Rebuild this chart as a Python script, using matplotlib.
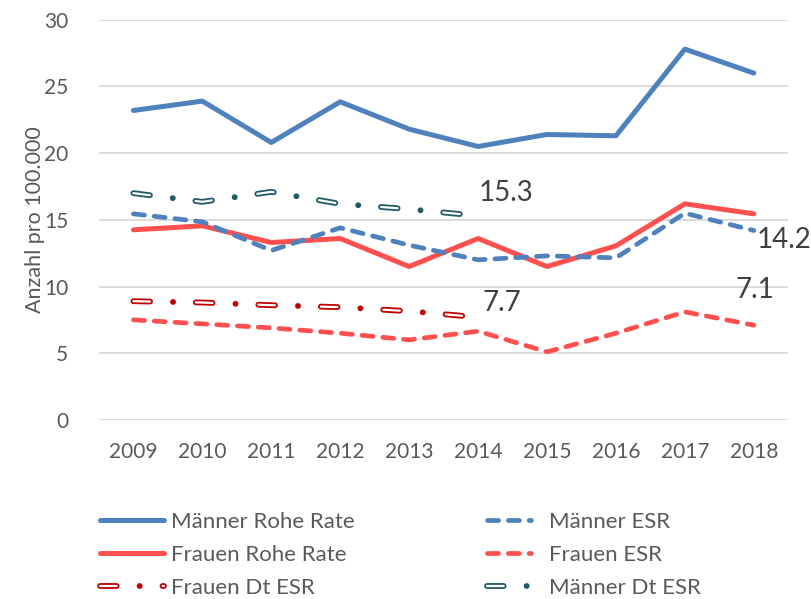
import matplotlib
matplotlib.use("Agg")
import matplotlib.pyplot as plt
from matplotlib.legend_handler import HandlerTuple

plt.rcParams['font.family'] = ['Lato', 'DejaVu Sans']
plt.rcParams['lines.scale_dashes'] = False

# data
years = [2009, 2010, 2011, 2012, 2013, 2014, 2015, 2016, 2017, 2018]
maenner_rohe = [23.2, 23.9, 20.8, 23.85, 21.8, 20.5, 21.4, 21.3, 27.8, 26.0]
frauen_rohe = [14.25, 14.55, 13.3, 13.6, 11.5, 13.6, 11.5, 13.05, 16.2, 15.45]
maenner_esr = [15.45, 14.85, 12.7, 14.4, 13.1, 12.0, 12.3, 12.15, 15.5, 14.2]
frauen_esr = [7.5, 7.2, 6.9, 6.5, 6.0, 6.65, 5.1, 6.5, 8.1, 7.1]
dt_years = [2009, 2010, 2011, 2012, 2013, 2014]
maenner_dt = [17.0, 16.35, 17.1, 16.2, 15.8, 15.3]
frauen_dt = [8.9, 8.8, 8.6, 8.45, 8.15, 7.7]

blue = '#4F81BD'
red = '#FF5050'
darkred = '#C00000'
teal = '#215968'
grey = '#595959'

fig = plt.figure(figsize=(8.11, 5.99), dpi=100)
ax = fig.add_axes([0.122, 0.299, 0.85, 0.668])

l1, = ax.plot(years, maenner_rohe, color=blue, lw=3.6, solid_capstyle='round')
l2, = ax.plot(years, frauen_rohe, color=red, lw=3.6, solid_capstyle='round')
l3, = ax.plot(years, maenner_esr, color=blue, lw=3.4, dash_capstyle='round',
              linestyle=(0, (8, 7)))
l4, = ax.plot(years, frauen_esr, color=red, lw=3.4, dash_capstyle='round',
              linestyle=(0, (8, 7)))

# hollow dash-dot lines: coloured dash-dot with a thin white core on the dashes
outer_ls = (0, (12, 16.5, 0.1, 16.4))
inner_ls = (0, (12, 33))
f_out, = ax.plot(dt_years, frauen_dt, color=darkred, lw=4.2, dash_capstyle='round',
                 linestyle=outer_ls)
f_in, = ax.plot(dt_years, frauen_dt, color='white', lw=1.6, dash_capstyle='round',
                linestyle=inner_ls)
m_out, = ax.plot(dt_years, maenner_dt, color=teal, lw=4.2, dash_capstyle='round',
                 linestyle=outer_ls)
m_in, = ax.plot(dt_years, maenner_dt, color='white', lw=1.6, dash_capstyle='round',
                linestyle=inner_ls)

# value labels
lab = dict(fontsize=20, color='#404040', va='center', clip_on=False)
ax.text(2014.4, 17.0, '15.3', ha='center', **lab)
ax.text(2014.35, 8.76, '7.7', ha='center', **lab)
ax.text(2018.04, 13.5, '14.2', ha='left', **lab)
ax.text(2018.01, 9.74, '7.1', ha='center', **lab)

ax.set_xlim(2008.5, 2018.5)
ax.set_ylim(0, 30)
ax.set_yticks([0, 5, 10, 15, 20, 25, 30])
ax.set_xticks(years)
ax.set_xticklabels([str(y) for y in years])
ax.tick_params(length=0, labelsize=15, colors=grey, pad=16)
ax.tick_params(axis='y', pad=22)
ax.grid(axis='y', color='#D9D9D9', lw=1.3)
ax.set_axisbelow(True)
for s in ax.spines.values():
    s.set_visible(False)
ax.set_ylabel('Anzahl pro 100.000', fontsize=15.5, color=grey)
ax.yaxis.set_label_coords(-0.078, 0.5)

hm = {tuple: HandlerTuple(ndivide=1, pad=0)}
leg_kw = dict(loc='upper left', frameon=False, fontsize=16, labelcolor=grey,
              borderpad=0, borderaxespad=0, labelspacing=0.6, handler_map=hm)
leg1 = fig.legend([l1, l2, (f_out, f_in)],
                  ['Männer Rohe Rate', 'Frauen Rohe Rate', 'Frauen Dt ESR'],
                  bbox_to_anchor=(0.123, 0.146), handlelength=2.9,
                  handletextpad=0.3, **leg_kw)
leg2 = fig.legend([l3, l4, (m_out, m_in)],
                  ['Männer ESR', 'Frauen ESR', 'Männer Dt ESR'],
                  bbox_to_anchor=(0.600, 0.146), handlelength=2.0,
                  handletextpad=0.8, **leg_kw)

fig.savefig('out.png', dpi=100)
